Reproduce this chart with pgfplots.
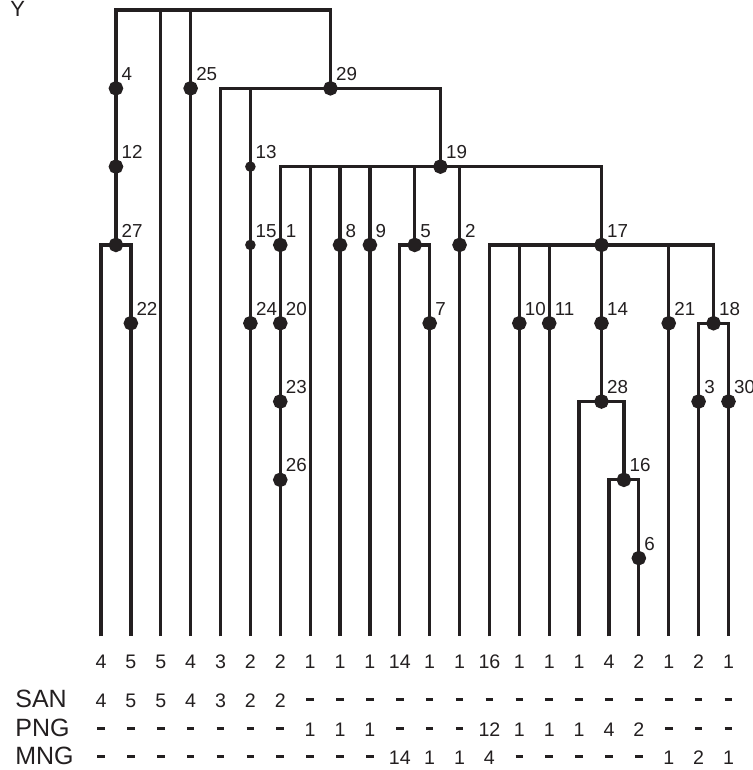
\documentclass[border=0pt]{standalone}
\usepackage{fontspec}
\setmainfont{Liberation Sans}
\usepackage{pgfplots}
\usepackage{pgfplotstable}
\pgfplotsset{compat=1.18}
\definecolor{ink}{HTML}{231F20}

\pgfplotstableread{
x y lab
0.5 7 4
0.5 6 12
0.5 5 27
1 4 22
3 7 25
7.68 7 29
5 4 24
11.36 6 19
6 5 1
6 4 20
6 3 23
6 2 26
8 5 8
9 5 9
10.5 5 5
11 4 7
12 5 2
16.75 5 17
14 4 10
15 4 11
16.75 4 14
19 4 21
20.5 4 18
16.75 3 28
17.5 2 16
18 1 6
20 3 3
21 3 30
}\bignodes

\pgfplotstableread{
x y lab
5 6 13
5 5 15
}\smallnodes

% d = no count (drawn as a dash)
\pgfplotstableread{
x cnt san png mng
0 4 4 d d
1 5 5 d d
2 5 5 d d
3 4 4 d d
4 3 3 d d
5 2 2 d d
6 2 2 d d
7 1 d 1 d
8 1 d 1 d
9 1 d 1 d
10 14 d d 14
11 1 d d 1
12 1 d d 1
13 16 d 12 4
14 1 d 1 d
15 1 d 1 d
16 1 d 1 d
17 4 d 4 d
18 2 d 2 d
19 1 d d 1
20 2 d d 2
21 1 d d 1
}\leaves

\def\dmark{d}
\newcommand\rowlab{\edef\tmp{\pgfplotspointmeta}\ifx\tmp\dmark\raisebox{2.9pt}{\rule{3.8pt}{1.5pt}}\else\tmp\fi}

\begin{document}
\begin{tikzpicture}
\useasboundingbox (0,0) rectangle (376pt,385pt);
\begin{axis}[
  at={(0,0)}, anchor=south west,
  x=14.94pt, y=39.15pt,
  xmin=-3.380, xmax=21.787, ymin=-1.706, ymax=8.128,
  axis line style={draw=none}, ticks=none,
  clip=false,
  every axis plot/.append style={ink, line width=1.65pt, line join=miter},
]
% tree
\addplot[mark=none] coordinates {(0.5,5) (0.5,8) (7.68,8) (7.68,7)};
\addplot[mark=none] coordinates {(2,8) (2,0)};
\addplot[mark=none] coordinates {(3,8) (3,0)};
\addplot[mark=none] coordinates {(0,0) (0,5) (1,5) (1,0)};
\addplot[mark=none] coordinates {(4,0) (4,7) (11.36,7) (11.36,6)};
\addplot[mark=none] coordinates {(5,7) (5,0)};
\addplot[mark=none] coordinates {(6,0) (6,6) (16.75,6) (16.75,3)};
\addplot[mark=none] coordinates {(7,6) (7,0)};
\addplot[mark=none] coordinates {(8,6) (8,0)};
\addplot[mark=none] coordinates {(9,6) (9,0)};
\addplot[mark=none] coordinates {(10.5,6) (10.5,5)};
\addplot[mark=none] coordinates {(10,0) (10,5) (11,5) (11,0)};
\addplot[mark=none] coordinates {(12,6) (12,0)};
\addplot[mark=none] coordinates {(13,0) (13,5) (20.5,5) (20.5,4)};
\addplot[mark=none] coordinates {(14,5) (14,0)};
\addplot[mark=none] coordinates {(15,5) (15,0)};
\addplot[mark=none] coordinates {(19,5) (19,0)};
\addplot[mark=none] coordinates {(16,0) (16,3) (17.5,3) (17.5,2)};
\addplot[mark=none] coordinates {(17,0) (17,2) (18,2) (18,0)};
\addplot[mark=none] coordinates {(20,0) (20,4) (21,4) (21,0)};
% nodes
\addplot[only marks, mark=*, mark size=2.8pt, mark options={fill=ink, draw=none},
  nodes near coords, point meta=explicit symbolic,
  nodes near coords style={anchor=south west, inner sep=0pt, xshift=2pt, yshift=3pt,
    text=ink, font=\fontsize{9.4}{9.4}\selectfont}]
  table[meta=lab] {\bignodes};
\addplot[only marks, mark=*, mark size=1.75pt, mark options={fill=ink, draw=none},
  nodes near coords, point meta=explicit symbolic,
  nodes near coords style={anchor=south west, inner sep=0pt, xshift=1.8pt, yshift=3pt,
    text=ink, font=\fontsize{9.4}{9.4}\selectfont}]
  table[meta=lab] {\smallnodes};
% leaf rows
\addplot[only marks, mark=none, nodes near coords={\rowlab}, point meta=explicit symbolic,
  nodes near coords style={anchor=base, inner sep=0pt, text=ink, font=\fontsize{9.8}{9.8}\selectfont}]
  table[x=x, y expr=-0.416, meta=cnt] {\leaves};
\addplot[only marks, mark=none, nodes near coords={\rowlab}, point meta=explicit symbolic,
  nodes near coords style={anchor=base, inner sep=0pt, text=ink, font=\fontsize{9.8}{9.8}\selectfont}]
  table[x=x, y expr=-0.902, meta=san] {\leaves};
\addplot[only marks, mark=none, nodes near coords={\rowlab}, point meta=explicit symbolic,
  nodes near coords style={anchor=base, inner sep=0pt, text=ink, font=\fontsize{9.8}{9.8}\selectfont}]
  table[x=x, y expr=-1.272, meta=png] {\leaves};
\addplot[only marks, mark=none, nodes near coords={\rowlab}, point meta=explicit symbolic,
  nodes near coords style={anchor=base, inner sep=0pt, text=ink, font=\fontsize{9.8}{9.8}\selectfont}]
  table[x=x, y expr=-1.63, meta=mng] {\leaves};
\node[anchor=base west, inner sep=0pt, text=ink, font=\fontsize{12.5}{12.5}\selectfont] at (axis cs:-2.88,-0.902) {SAN};
\node[anchor=base west, inner sep=0pt, text=ink, font=\fontsize{12.5}{12.5}\selectfont] at (axis cs:-2.88,-1.272) {PNG};
\node[anchor=base west, inner sep=0pt, text=ink, font=\fontsize{12.5}{12.5}\selectfont] at (axis cs:-2.88,-1.63) {MNG};
\node[anchor=west, inner sep=0pt, text=ink, font=\fontsize{11}{11}\selectfont] at (axis cs:-3.05,8.01) {Y};
\end{axis}
\end{tikzpicture}
\end{document}
